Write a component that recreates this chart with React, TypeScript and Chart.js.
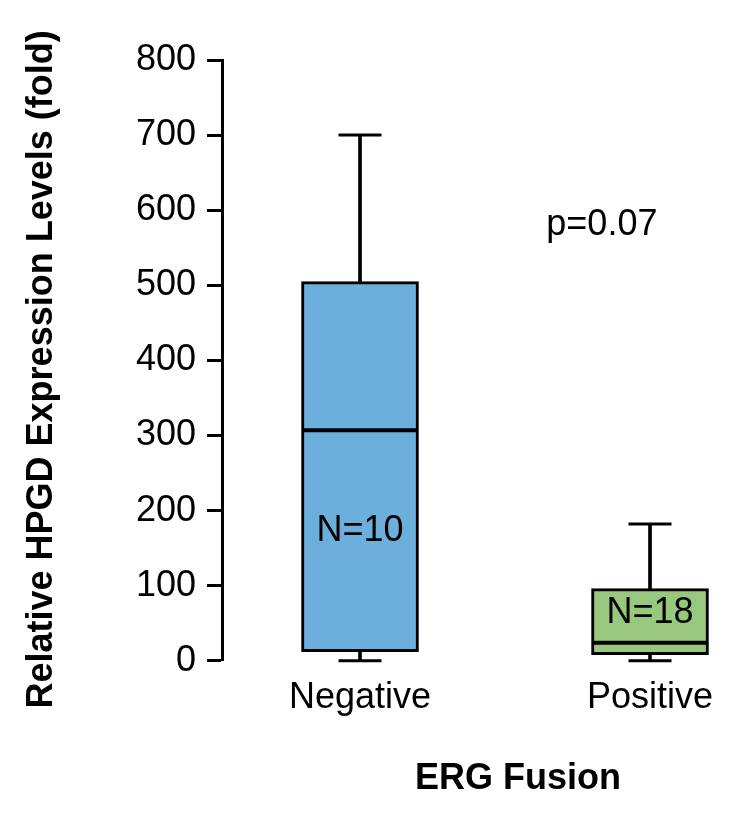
import React, { useEffect, useRef } from "react";
import { Chart, registerables } from "chart.js";

Chart.register(...registerables);

// ---- data ----
const categories = ["Negative", "Positive"];
const whiskerLow = [0, 0];
const quartile1 = [12, 8];
const medians = [307, 24];
const quartile3 = [505, 96];
const whiskerHigh = [700, 182];
const sampleSizes = [10, 18];
const pValueText = "p=0.07";
const yTickValues = [0, 100, 200, 300, 400, 500, 600, 700, 800];
const yAxisTitle = "Relative HPGD Expression Levels (fold)";
const xAxisTitle = "ERG Fusion";

// ---- styles / placement ----
const boxColors = ["#6caedc", "#97c87e"];
const nLabelValue = [173, 63];
const pLabelPos = { x: 0.834, y: 580 };
const FONT = "'Liberation Sans', Arial, Helvetica, sans-serif";

const textPlugin = {
  id: "boxTexts",
  afterDatasetsDraw(chart: any) {
    const { ctx, chartArea } = chart;
    const x = chart.scales.x;
    const y = chart.scales.y;
    ctx.save();
    ctx.fillStyle = "#000";
    ctx.textAlign = "center";
    ctx.textBaseline = "middle";
    ctx.font = `36px ${FONT}`;
    sampleSizes.forEach((n, i) => {
      ctx.fillText(`N=${n}`, x.getPixelForValue(i), y.getPixelForValue(nLabelValue[i]));
    });
    ctx.fillText(pValueText, x.getPixelForValue(pLabelPos.x), y.getPixelForValue(pLabelPos.y));
    ctx.font = `bold 36px ${FONT}`;
    ctx.fillText(xAxisTitle, x.getPixelForValue(0.545), chartArea.bottom + 118);
    // y axis title
    ctx.translate(42, (chartArea.top + chartArea.bottom) / 2 + 9);
    ctx.rotate(-Math.PI / 2);
    ctx.fillText(yAxisTitle, 0, 0);
    ctx.restore();
  },
};

export default function App() {
  const ref = useRef<HTMLCanvasElement | null>(null);

  useEffect(() => {
    if (!ref.current) return;
    Chart.defaults.font.family = FONT;
    Chart.defaults.color = "#000";

    const boxData = categories.map((_, i) => ({ x: i, y: [quartile1[i], quartile3[i]] }));
    const upperWhisker = categories.map((_, i) => ({ x: i, y: [quartile3[i], whiskerHigh[i]] }));
    const lowerWhisker = categories.map((_, i) => ({ x: i, y: [whiskerLow[i], quartile1[i]] }));
    const caps = categories.flatMap((_, i) => [
      { x: i, y: whiskerHigh[i] },
      { x: i, y: whiskerLow[i] },
    ]);
    const medianPts = categories.map((_, i) => ({ x: i, y: medians[i] }));

    const chart = new Chart(ref.current, {
      type: "bar",
      data: {
        datasets: [
          {
            type: "bar",
            label: "box",
            data: boxData as any,
            backgroundColor: boxColors,
            borderColor: "#000",
            borderWidth: 3,
            borderSkipped: false,
            barThickness: 117,
            grouped: false,
            order: 2,
            clip: false as any,
          },
          {
            type: "bar",
            label: "upper",
            data: upperWhisker as any,
            backgroundColor: "#000",
            borderWidth: 0,
            barThickness: 3,
            grouped: false,
            order: 3,
            clip: false as any,
          },
          {
            type: "bar",
            label: "lower",
            data: lowerWhisker as any,
            backgroundColor: "#000",
            borderWidth: 0,
            barThickness: 3,
            grouped: false,
            order: 3,
            clip: false as any,
          },
          {
            type: "line",
            label: "caps",
            data: caps as any,
            showLine: false,
            pointStyle: "line",
            pointRadius: 21.5,
            pointBorderWidth: 3,
            pointBorderColor: "#000",
            order: 1,
            clip: false as any,
          },
          {
            type: "line",
            label: "median",
            data: medianPts as any,
            showLine: false,
            pointStyle: "line",
            pointRadius: 57,
            pointBorderWidth: 4,
            pointBorderColor: "#000",
            order: 0,
            clip: false as any,
          },
        ],
      },
      options: {
        responsive: false,
        animation: false,
        events: [],
        layout: { autoPadding: false, padding: { top: 60, right: 20, bottom: 85, left: 0 } },
        plugins: { legend: { display: false }, tooltip: { enabled: false } },
        scales: {
          x: {
            type: "linear",
            offset: false,
            min: -0.4759,
            max: 1.2517,
            grid: { display: false, drawTicks: false },
            border: { display: false },
            afterBuildTicks: (axis: any) => {
              axis.ticks = categories.map((_, i) => ({ value: i }));
            },
            afterFit: (axis: any) => {
              axis.paddingLeft = 0;
              axis.paddingRight = 0;
            },
            ticks: {
              autoSkip: false,
              maxRotation: 0,
              padding: 16,
              font: { size: 36 },
              color: "#000",
              callback: (v: any) => categories[v as number] ?? "",
            },
          },
          y: {
            type: "linear",
            min: 0,
            max: 800,
            afterBuildTicks: (axis: any) => {
              axis.ticks = yTickValues.map((v) => ({ value: v }));
            },
            afterFit: (axis: any) => {
              axis.width = 222;
            },
            grid: {
              drawOnChartArea: false,
              drawTicks: true,
              tickLength: 15,
              tickWidth: 3,
              tickColor: "#000",
              color: "#000",
            },
            border: { display: true, color: "#000", width: 3 },
            ticks: { padding: 11, font: { size: 36 }, color: "#000" },
            title: { display: false },
          },
        },
      },
      plugins: [textPlugin],
    });
    return () => chart.destroy();
  }, []);

  return (
    <div style={{ position: "absolute", left: 0, top: 0, width: 743, height: 821, background: "#fff" }}>
      <canvas ref={ref} width={743} height={821} style={{ display: "block" }} />
    </div>
  );
}
